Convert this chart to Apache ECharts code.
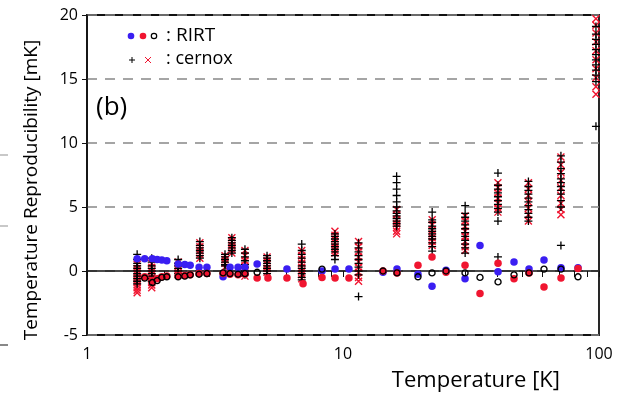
<!DOCTYPE html>
<html>
<head>
<meta charset="utf-8">
<script src="https://cdn.jsdelivr.net/npm/echarts@6/dist/echarts.min.js"></script>
<style>
html,body{margin:0;padding:0;background:#fff;}
#c{width:630px;height:396px;}
</style>
</head>
<body>
<div id="c"></div>
<script>
// ---- data ----
const cernoxT = [1.57, 1.79, 2.27, 2.76, 3.46, 3.68, 4.14, 5.05, 6.9, 9.3, 11.5, 16.2, 22.3, 30, 40.3, 53, 71, 97.3];
const cernoxPlus = [
  [1.3, 0.9, 0.6, 0.4, 0.2, 0.0, -0.2, -0.4, -0.6, -0.8, -1.0],
  [1.0, 0.7, 0.4, 0.2, 0.0, -0.2, -0.4, -0.6, -0.8],
  [0.9, 0.6, 0.4, 0.2, 0.0, -0.2],
  [2.3, 2.0, 1.8, 1.6, 1.4, 1.2, 1.0],
  [1.3, 1.1, 0.9, 0.7, 0.5, 0.4],
  [2.6, 2.4, 2.2, 2.0, 1.8, 1.6, 1.4],
  [1.7, 1.4, 1.1, 0.8, 0.5, 0.3, 0.0, -0.3],
  [1.2, 1.0, 0.8, 0.6, 0.4, 0.2, 0.0, -0.2],
  [2.1, 1.6, 1.3, 1.0, 0.7, 0.4, 0.2, 0.0, -0.2, -0.5, -0.7],
  [2.9, 2.7, 2.5, 2.3, 2.1, 1.9, 1.7, 1.5, 1.2, 0.9],
  [2.2, 1.8, 1.5, 1.2, 0.9, 0.6, 0.3, 0.0, -0.3, -2.0],
  [7.4, 6.9, 6.4, 5.9, 5.4, 5.0, 4.7, 4.5, 4.3, 4.1, 3.9, 3.7, 3.5],
  [4.6, 4.0, 3.8, 3.5, 3.3, 3.1, 2.9, 2.7, 2.5, 2.2, 1.9, 1.55],
  [5.1, 4.5, 4.2, 3.9, 3.6, 3.3, 3.0, 2.7, 2.4, 2.1, 1.8, 1.4],
  [7.65, 6.7, 6.4, 6.1, 5.8, 5.5, 5.2, 4.9, 4.6, 3.9, 1.1],
  [7.0, 6.6, 6.3, 6.0, 5.7, 5.4, 5.1, 4.8, 4.5, 4.2, 3.9],
  [9.0, 8.5, 8.0, 7.6, 7.2, 6.9, 6.6, 6.3, 6.0, 5.5, 5.0, 2.0],
  [19.1, 18.5, 18.1, 17.7, 17.3, 16.9, 16.5, 16.1, 15.7, 15.3, 14.8, 11.3]
];
const cernoxCross = [
  [0.5, 0.2, -0.1, -0.3, -0.5, -0.7, -0.9, -1.1, -1.3, -1.5, -1.7],
  [0.6, 0.3, 0.0, -0.3, -0.5, -0.7, -0.9, -1.1, -1.3],
  [0.7, 0.4, 0.1, -0.1, -0.3],
  [2.2, 1.9, 1.6, 1.3, 1.0],
  [1.2, 0.9, 0.6, 0.3],
  [2.6, 2.3, 2.0, 1.7, 1.4],
  [1.6, 1.2, 0.8, 0.4, 0.0, -0.4],
  [1.1, 0.8, 0.5, 0.2, -0.1],
  [1.6, 1.2, 0.9, 0.6, 0.3, 0.0, -0.3, -0.6],
  [3.1, 2.8, 2.5, 2.2, 1.9, 1.6, 1.4],
  [2.3, 1.9, 1.5, 1.1, 0.7, 0.3, -0.1, -0.5, -0.8],
  [4.8, 4.4, 4.0, 3.7, 3.4, 3.1, 2.9],
  [4.0, 3.6, 3.2, 2.9, 2.6, 2.3, 2.0],
  [4.3, 3.9, 3.5, 3.1, 2.7, 2.3, 1.9, 1.6],
  [6.9, 6.5, 6.1, 5.7, 5.3, 4.9, 4.6],
  [6.9, 6.4, 5.9, 5.4, 4.9, 4.4, 3.9],
  [8.9, 8.3, 7.7, 7.1, 6.5, 5.9, 5.3, 4.8, 4.4],
  [19.7, 19.2, 18.6, 17.9, 17.2, 16.5, 15.8, 15.1, 14.4, 13.8]
];
const rirtT    = [1.57, 1.68, 1.80, 1.88, 1.96, 2.05, 2.27, 2.41, 2.53, 2.74, 2.94, 3.40, 3.62, 3.89, 4.14, 4.62, 5.09, 6.04, 6.98, 8.28, 9.31, 10.55, 14.33, 16.25, 19.63, 22.27, 25.26, 29.97, 34.29, 40.33, 46.56, 53.29, 60.97, 71.05, 82.79];
const rirtBlue = [0.95, 0.95, 0.95, 0.9, 0.85, 0.8, 0.55, 0.5, 0.45, 0.3, 0.3, -0.45, 0.3, 0.3, 0.3, 0.55, null, 0.15, null, 0.0, 0.15, 0.15, -0.1, 0.15, -0.25, -1.2, 0.05, -0.6, 2.0, -0.05, 0.7, 0.15, 0.85, 0.25, 0.25];
const rirtRed  = [null, -0.45, -0.75, -0.6, -0.45, -0.4, -0.4, -0.35, -0.3, -0.2, -0.2, -0.2, -0.25, -0.3, -0.25, -0.55, -0.55, -0.55, -1.0, -0.5, -0.55, -0.55, 0.0, -0.15, 0.45, 1.1, -0.1, 0.45, -1.75, 0.6, -0.6, -0.15, -1.25, -0.55, 0.2];
const rirtOpen = [null, -0.55, -0.9, -0.75, -0.5, -0.45, -0.45, -0.4, -0.3, -0.25, -0.2, -0.15, -0.2, -0.25, -0.2, -0.1, null, null, null, 0.15, null, null, 0.0, -0.15, -0.45, -0.15, 0.0, -0.15, -0.5, -0.85, -0.3, -0.15, 0.15, 0.15, -0.45];
const xTicks = [1, 2, 3, 4, 5, 6, 7, 8, 9, 10, 20, 30, 40, 50, 60, 70, 80, 90, 100];
const xLabels = [1, 10, 100];
const yTickLabels = ['-5', '0', '5', '10', '15', '20'];

// ---- build ----
function clusterPts(ts, vals) {
  const out = [];
  ts.forEach((t, i) => vals[i].forEach(v => out.push([t, v])));
  return out;
}
function rirtPts(vals) {
  const out = [];
  rirtT.forEach((t, i) => { if (vals[i] !== null) out.push([t, vals[i]]); });
  return out;
}
const FONT = '"Open Sans", "Noto Sans", sans-serif';
const BLUE = '#3a1ef2';
const RED = '#f01530';

const chart = echarts.init(document.getElementById('c'), null, {renderer: 'canvas'});
chart.setOption({
  backgroundColor: '#fff',
  animation: false,
  grid: {left: 87, right: 31, top: 15, bottom: 61, show: true, borderColor: '#111', borderWidth: 1.8, backgroundColor: 'transparent'},
  xAxis: {
    type: 'log', logBase: 10, min: 1, max: 100,
    axisLine: {show: true, lineStyle: {color: '#111', width: 1.5}},
    axisTick: {show: true, inside: false, length: 6, lineStyle: {color: '#111', width: 1}, customValues: xTicks},
    axisLabel: {show: true, color: '#000', fontFamily: FONT, fontSize: 16, margin: 11, customValues: xLabels,
      formatter: v => String(Math.round(v))},
    splitLine: {show: false},
    minorTick: {show: false}
  },
  yAxis: {
    type: 'value', min: -5, max: 20, interval: 5,
    axisLine: {show: true, lineStyle: {color: '#111', width: 1.5}},
    axisTick: {show: true, inside: false, length: 5, lineStyle: {color: '#111', width: 1}},
    axisLabel: {color: '#000', fontFamily: FONT, fontSize: 16, margin: 9,
      formatter: v => yTickLabels[Math.round((v + 5) / 5)]},
    splitLine: {show: true, lineStyle: {color: '#888', width: 1.5, type: [10, 8]}}
  },
  series: [
    {type: 'scatter', name: 'cernox-x', data: clusterPts(cernoxT, cernoxCross),
      symbol: 'path://M0,0L10,10M10,0L0,10', symbolSize: 7,
      itemStyle: {color: 'none', borderColor: RED, borderWidth: 1.4, opacity: 1}},
    {type: 'scatter', name: 'cernox-plus', data: clusterPts(cernoxT, cernoxPlus),
      symbol: 'path://M5,0L5,10M0,5L10,5', symbolSize: 8,
      itemStyle: {color: 'none', borderColor: '#000', borderWidth: 1.3, opacity: 1}},
    {type: 'scatter', name: 'rirt-blue', data: rirtPts(rirtBlue), symbol: 'circle', symbolSize: 7.5,
      itemStyle: {color: BLUE, opacity: 1}},
    {type: 'scatter', name: 'rirt-red', data: rirtPts(rirtRed), symbol: 'circle', symbolSize: 7.5,
      itemStyle: {color: RED, opacity: 1}},
    {type: 'scatter', name: 'rirt-open', data: rirtPts(rirtOpen), symbol: 'circle', symbolSize: 6,
      itemStyle: {color: 'none', borderColor: '#000', borderWidth: 1.4, opacity: 1}}
  ],
  graphic: [
    // legend
    {type: 'circle', shape: {cx: 131, cy: 36, r: 3.3}, style: {fill: BLUE}},
    {type: 'circle', shape: {cx: 143, cy: 36, r: 3.3}, style: {fill: RED}},
    {type: 'circle', shape: {cx: 154, cy: 36, r: 2.7}, style: {fill: 'none', stroke: '#000', lineWidth: 1.2}},
    {type: 'text', x: 166, y: 36, style: {text: ': RIRT', font: '19px ' + FONT, fill: '#000', textVerticalAlign: 'middle'}},
    {type: 'polyline', shape: {points: [[129, 60], [135, 60]]}, style: {stroke: '#000', lineWidth: 1}},
    {type: 'polyline', shape: {points: [[132, 57], [132, 63]]}, style: {stroke: '#000', lineWidth: 1}},
    {type: 'polyline', shape: {points: [[145, 57], [151, 63]]}, style: {stroke: RED, lineWidth: 1}},
    {type: 'polyline', shape: {points: [[151, 57], [145, 63]]}, style: {stroke: RED, lineWidth: 1}},
    {type: 'text', x: 166, y: 59, style: {text: ': cernox', font: '18px ' + FONT, fill: '#000', textVerticalAlign: 'middle'}},
    // panel label
    {type: 'text', x: 96, y: 108, style: {text: '(b)', font: '26px ' + FONT, fill: '#000', textVerticalAlign: 'middle'}},
    // axis names
    {type: 'text', x: 32, y: 190, rotation: Math.PI / 2,
      style: {text: 'Temperature Reproducibility [mK]', font: '19px ' + FONT, fill: '#000', textAlign: 'center', textVerticalAlign: 'middle'}},
    {type: 'text', x: 560, y: 381,
      style: {text: 'Temperature [K]', font: '22px ' + FONT, fill: '#000', textAlign: 'right', textVerticalAlign: 'middle'}},
    // edge marks from neighbouring panel
    {type: 'rect', shape: {x: 0, y: 154, width: 8, height: 2}, style: {fill: '#c8c8c8'}},
    {type: 'rect', shape: {x: 0, y: 225, width: 8, height: 2}, style: {fill: '#c8c8c8'}},
    {type: 'rect', shape: {x: 0, y: 344, width: 8, height: 2}, style: {fill: '#888'}}
  ]
});
</script>
</body>
</html>
